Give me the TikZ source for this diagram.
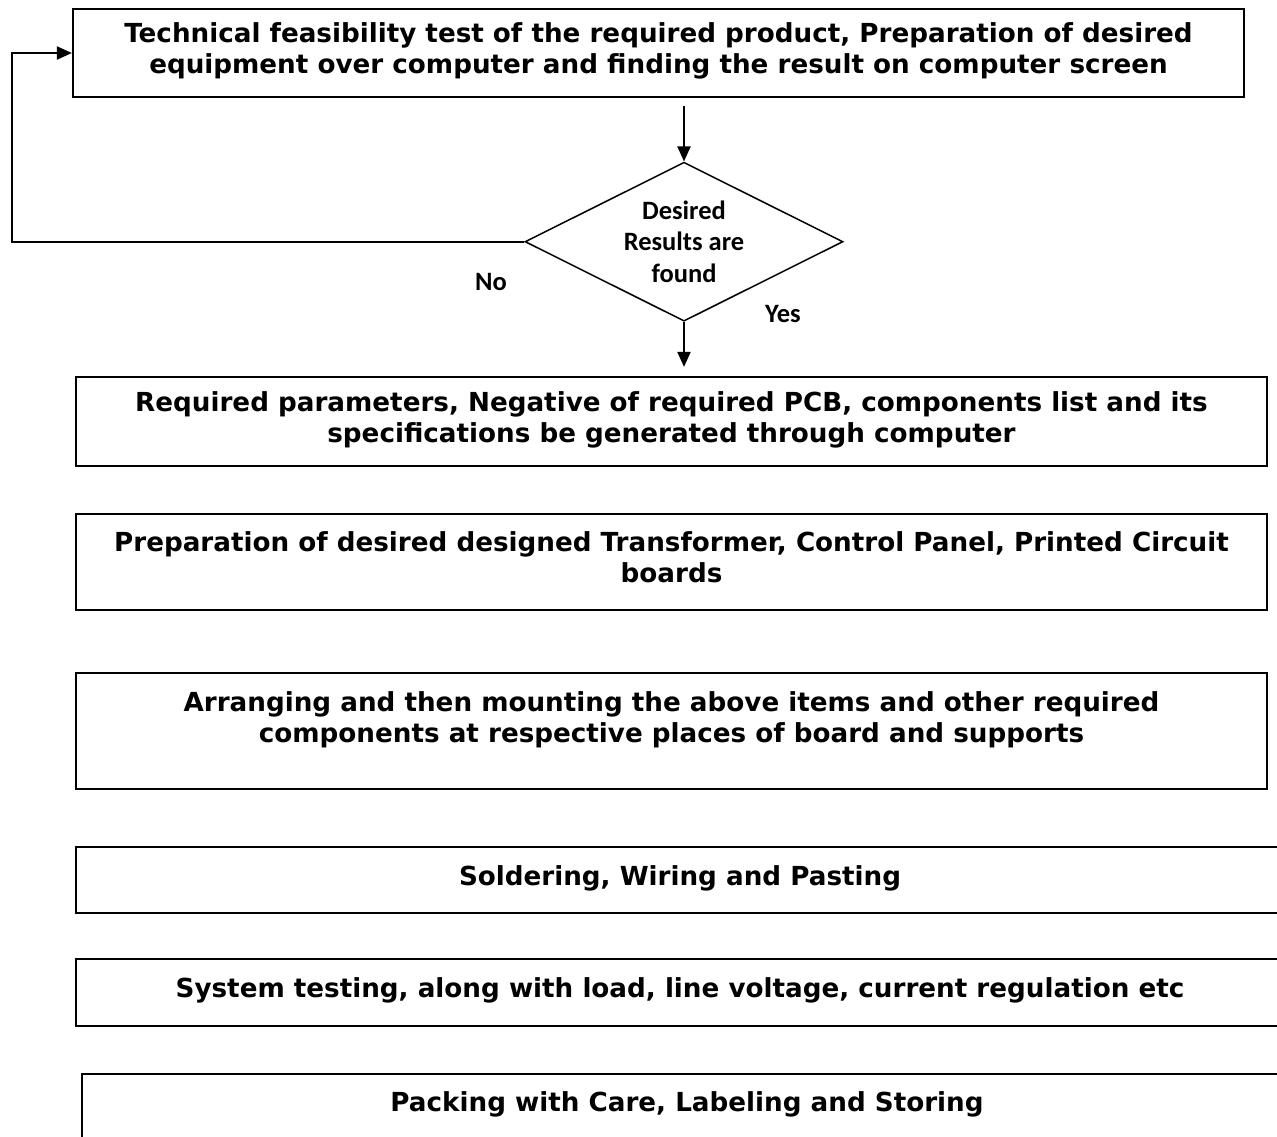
\documentclass[tikz,border=0pt]{standalone}
\usepackage{fontspec}
\usetikzlibrary{shapes.geometric,arrows.meta}
\newfontfamily\verdanafont{DejaVu Sans}
\newfontfamily\calibrifont{Carlito}

\begin{document}
\begin{tikzpicture}[x=1pt, y=-1pt,
    stepbox/.style={draw, rectangle, line width=2.2pt, align=center, inner sep=0pt, text depth=9pt,
      font=\verdanafont\bfseries\fontsize{26.2}{31}\selectfont},
    decision/.style={draw, diamond, aspect=2, line width=1.5pt, align=center, inner sep=0pt,
      font=\calibrifont\bfseries\fontsize{26.5}{31.5}\selectfont},
    answer/.style={font=\calibrifont\bfseries\fontsize{26.5}{31.5}\selectfont},
    >={Triangle[width=13pt,length=15pt]}]
\useasboundingbox (0,0) rectangle (1277,1136);
% design check loop
\node[stepbox, minimum width=1171pt, minimum height=88pt] (test) at (658.5, 53) {Technical feasibility test of the required product, Preparation of desired\\equipment over computer and finding the result on computer screen};
\node[decision, minimum width=318pt, minimum height=159pt] (found) at (684, 241.7) {Desired\\Results are\\found};
\node[answer] (no) at (491, 282) {No};
\node[answer] (yes) at (783, 314) {Yes};
\coordinate (back) at (12, 241.7);
% production steps
\node[stepbox, minimum width=1191pt, minimum height=89pt] (params) at (671.5, 421.5) {Required parameters, Negative of required PCB, components list and its\\specifications be generated through computer};
\node[stepbox, minimum width=1191pt, minimum height=96pt] (boards) at (671.5, 562) {Preparation of desired designed Transformer, Control Panel, Printed Circuit\\boards};
\node[stepbox, minimum width=1191pt, minimum height=116pt, text depth=28pt] (mount) at (671.5, 731) {Arranging and then mounting the above items and other required\\components at respective places of board and supports};
\node[stepbox, minimum width=1208pt, minimum height=66pt] (solder) at (680, 880) {Soldering, Wiring and Pasting};
\node[stepbox, minimum width=1208pt, minimum height=67pt] (system) at (680, 992.5) {System testing, along with load, line voltage, current regulation etc};
\node[stepbox, minimum width=1210pt, minimum height=100pt, text depth=45pt] (packing) at (687, 1124) {Packing with Care, Labeling and Storing};
\draw[->, line width=2pt, shorten <=8pt] (test.south -| found.north) -- (found.north);
\draw[->, line width=2pt, shorten >=9pt] (found.south) -- (found.south |- params.north);
\draw[->, line width=2pt] (found.west) -- (back) |- (test.west);
\end{tikzpicture}
\end{document}
